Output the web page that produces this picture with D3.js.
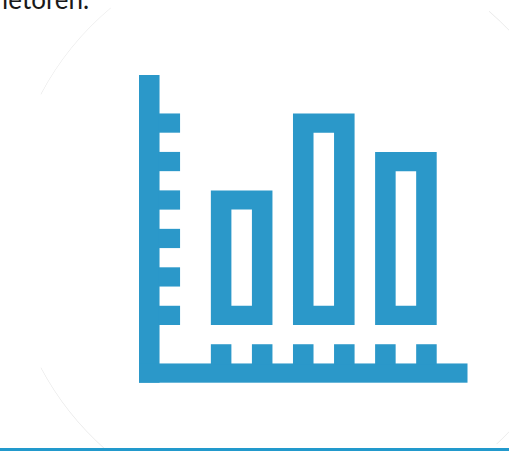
<!DOCTYPE html>
<html>
<head>
<meta charset="utf-8">
<script src="https://cdn.jsdelivr.net/npm/d3@7"></script>
<style>
  html, body { margin: 0; padding: 0; background: #fff; }
  svg { display: block; }
</style>
</head>
<body>
<div id="chart"></div>
<script>
const categories = ['a', 'b', 'c']
const barValues = [3.5, 5.5, 4.5]
const yTicks = [0, 1, 2, 3, 4, 5]
const xTicks = [0, 1, 2, 3, 4, 5]
const caption = 'ietoren.'
// faint edge of the background circle, degrees clockwise from 12 o'clock
const circleArcs = [[-62, -40], [-138.6, -118], [41, 47], [133, 137]]

const width = 509
const height = 451
const blue = '#2b98c9'

const svg = d3.select('#chart').append('svg')
  .attr('width', width)
  .attr('height', height)

const xScale = d3.scaleLinear().domain([0, 16]).range([139, 467.5])
const yScale = d3.scaleLinear().domain([0, 6.5]).range([325, 75])
const barScale = d3.scaleBand()
  .domain(categories)
  .range([xScale(3.5), xScale(14.5)])
  .paddingInner(1 / 4)

// circle
const arc = d3.arc().innerRadius(291).outerRadius(291.5)
svg.append('g')
  .attr('transform', 'translate(298,231)')
  .selectAll('path')
  .data(circleArcs)
  .join('path')
  .attr('d', d => arc({ startAngle: d[0] * Math.PI / 180, endAngle: d[1] * Math.PI / 180 }))
  .attr('fill', '#e4e4e4')

// text cut off by the top of the frame
svg.append('text')
  .attr('x', 2)
  .attr('y', 9)
  .attr('font-family', 'Lato')
  .attr('font-size', 26)
  .attr('fill', '#1a1a1a')
  .text(caption)

// axes
const gAxis = svg.append('g').attr('fill', blue)
gAxis.append('rect')
  .attr('x', xScale(0))
  .attr('y', yScale(6.5))
  .attr('width', xScale(1) - xScale(0))
  .attr('height', yScale(-1.5) - yScale(6.5))
gAxis.append('rect')
  .attr('x', xScale(0))
  .attr('y', yScale(-1))
  .attr('width', xScale(16) - xScale(0))
  .attr('height', yScale(-1.5) - yScale(-1))
gAxis.selectAll('.ytick')
  .data(yTicks)
  .join('rect')
  .attr('class', 'ytick')
  .attr('x', xScale(1) - 1)
  .attr('y', d => yScale(d + 0.5))
  .attr('width', xScale(2) - xScale(1) + 1)
  .attr('height', yScale(0) - yScale(0.5))
gAxis.selectAll('.xtick')
  .data(xTicks)
  .join('rect')
  .attr('class', 'xtick')
  .attr('x', d => xScale(3.5 + d * 2))
  .attr('y', yScale(-0.5))
  .attr('width', xScale(1) - xScale(0))
  .attr('height', yScale(-1) - yScale(-0.5) + 1) // +1 closes the seam on the axis

// hollow bars
function barPath (d, i) {
  const x0 = barScale(categories[i])
  const x1 = x0 + barScale.bandwidth()
  const t = xScale(1) - xScale(0)
  const h = yScale(0) - yScale(0.5)
  const p = d3.path()
  p.rect(x0, yScale(d), x1 - x0, yScale(0) - yScale(d))
  p.rect(x0 + t, yScale(d) + h, x1 - x0 - 2 * t, yScale(0) - yScale(d) - 2 * h)
  return p.toString()
}
svg.append('g').selectAll('path')
  .data(barValues)
  .join('path')
  .attr('d', barPath)
  .attr('fill', blue)
  .attr('fill-rule', 'evenodd')

// rule at the bottom
svg.append('rect')
  .attr('x', 0)
  .attr('y', 448)
  .attr('width', width)
  .attr('height', 3)
  .attr('fill', '#2299cc')
</script>
</body>
</html>
